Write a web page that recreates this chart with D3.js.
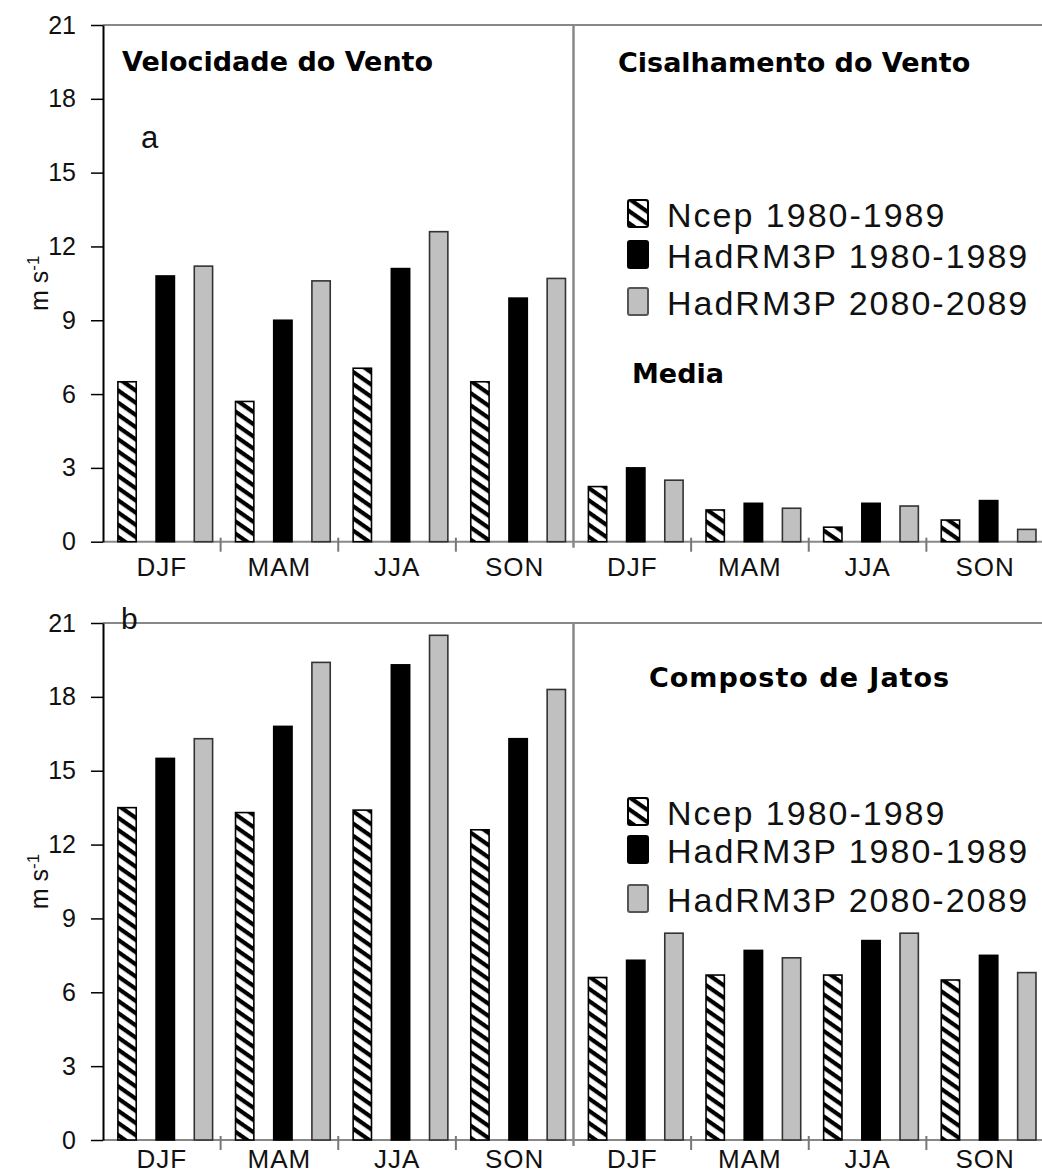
<!DOCTYPE html>
<html lang="pt">
<head>
<meta charset="UTF-8">
<title>Velocidade e cisalhamento do vento</title>
<script src="https://d3js.org/d3.v7.min.js"></script>
<style>
    html, body { margin:0; padding:0; background:#fff; }
    svg { display:block; }
    .tick text { font-family:"Liberation Sans", Arial, sans-serif; font-size:25px; fill:#111; }
    .lbl { font-family:"Liberation Sans", Arial, sans-serif; fill:#111; }
    .ttl { font-family:"DejaVu Sans", Verdana, sans-serif; font-weight:bold; font-size:27px; fill:#000; }
</style>
</head>
<body>
<script>
    // categorias e séries
    const seasons = ["DJF", "MAM", "JJA", "SON"];
    const categories = seasons.concat(seasons);
    const seriesNames = ["Ncep 1980-1989", "HadRM3P 1980-1989", "HadRM3P 2080-2089"];
    const yTicks = [0, 3, 6, 9, 12, 15, 18, 21];

    // painel a: velocidade do vento (4 primeiras) + cisalhamento (4 últimas)
    const aNcep  = [6.5, 5.7, 7.05, 6.5, 2.24, 1.29, 0.59, 0.88];
    const aHad80 = [10.8, 9.0, 11.1, 9.9, 3.0, 1.56, 1.56, 1.67];
    const aHad20 = [11.2, 10.6, 12.6, 10.7, 2.5, 1.36, 1.45, 0.5];

    // painel b
    const bNcep  = [13.5, 13.3, 13.4, 12.6, 6.6, 6.7, 6.7, 6.5];
    const bHad80 = [15.5, 16.8, 19.3, 16.3, 7.3, 7.7, 8.1, 7.5];
    const bHad20 = [16.3, 19.4, 20.5, 18.3, 8.4, 7.4, 8.4, 6.8];

    const W = 1042, H = 1175;
    const svg = d3.select("body").append("svg")
        .attr("width", W).attr("height", H);

    // hachura "\"
    const defs = svg.append("defs");
    const pat = defs.append("pattern")
        .attr("id", "hatch")
        .attr("patternUnits", "userSpaceOnUse")
        .attr("width", 10).attr("height", 10)
        .attr("patternTransform", "rotate(35)");
    pat.append("rect").attr("width", 10).attr("height", 10).attr("fill", "#fff");
    pat.append("rect").attr("width", 10).attr("height", 4.2).attr("fill", "#000");

    const fills = ["url(#hatch)", "#000", "#c0c0c0"];
    const strokes = ["#000", "#000", "#333"];

    const x0 = d3.scaleBand().domain(d3.range(8)).range([103, 1044]);
    const x1 = d3.scaleBand().domain(d3.range(3)).range([0, x0.bandwidth()])
        .paddingInner(0.52).paddingOuter(0.3).align(0.65);

    function drawPanel(top, bottom, series, labelOffset) {
        const y = d3.scaleLinear().domain([0, 21]).range([bottom, top]);
        const g = svg.append("g");

        // linha superior
        g.append("line")
            .attr("x1", 103).attr("x2", W)
            .attr("y1", y(21)).attr("y2", y(21))
            .attr("stroke", "#888").attr("stroke-width", 2);

        // eixo x
        g.append("line")
            .attr("x1", 103).attr("x2", W)
            .attr("y1", y(0)).attr("y2", y(0))
            .attr("stroke", "#888").attr("stroke-width", 2);

        // marcas entre grupos
        [1, 2, 3, 5, 6, 7].forEach(i => {
            g.append("line")
                .attr("x1", x0(i)).attr("x2", x0(i))
                .attr("y1", y(0) - 4).attr("y2", y(0) + 10)
                .attr("stroke", "#777").attr("stroke-width", 2);
        });

        // divisória
        g.append("line")
            .attr("x1", x0(4)).attr("x2", x0(4))
            .attr("y1", y(21)).attr("y2", y(0) + 6)
            .attr("stroke", "#888").attr("stroke-width", 2.5);

        // barras
        series.forEach((vals, s) => {
            g.selectAll(null)
                .data(vals)
                .join("rect")
                .attr("x", (d, i) => x0(i) + x1(s))
                .attr("y", d => y(d))
                .attr("width", x1.bandwidth())
                .attr("height", d => y(0) - y(d))
                .attr("fill", fills[s])
                .attr("stroke", strokes[s])
                .attr("stroke-width", 1.6);
        });

        // eixo y
        const ay = g.append("g")
            .attr("transform", "translate(103,0)")
            .call(d3.axisLeft(y).tickValues(yTicks).tickSize(12).tickPadding(15).tickSizeOuter(0));
        ay.select(".domain").attr("stroke", "#000").attr("stroke-width", 2);
        ay.selectAll(".tick line").attr("stroke", "#000").attr("stroke-width", 1.5);

        // rótulos das estações
        g.selectAll(null)
            .data(categories)
            .join("text")
            .attr("class", "lbl")
            .attr("x", (d, i) => x0(i) + x0.bandwidth() / 2)
            .attr("y", y(0) + labelOffset)
            .attr("text-anchor", "middle")
            .attr("font-size", 26)
            .attr("letter-spacing", 1)
            .text(d => d);

        // unidade
        const t = g.append("text")
            .attr("class", "lbl")
            .attr("font-size", 25)
            .attr("text-anchor", "middle")
            .attr("transform", `translate(48,${(top + bottom) / 2}) rotate(-90)`);
        t.append("tspan").text("m s");
        t.append("tspan").attr("dy", -9).attr("font-size", 17).text("-1");

        return y;
    }

    function drawLegend(ys) {
        const lg = svg.append("g");
        seriesNames.forEach((name, i) => {
            lg.append("rect")
                .attr("x", 628).attr("y", ys[i] - 27)
                .attr("width", 20).attr("height", 27)
                .attr("rx", 2)
                .attr("fill", fills[i])
                .attr("stroke", i === 2 ? "#555" : "#000")
                .attr("stroke-width", 2);
            lg.append("text")
                .attr("class", "lbl")
                .attr("x", 667).attr("y", ys[i])
                .attr("font-size", 34)
                .attr("letter-spacing", 2)
                .text(name);
        });
    }

    drawPanel(25, 541.7, [aNcep, aHad80, aHad20], 34);
    // o rótulo inferior fica rente à borda, como no original
    drawPanel(623, 1140, [bNcep, bHad80, bHad20], 28);

    // títulos
    svg.append("text").attr("class", "ttl").attr("x", 122).attr("y", 71).text("Velocidade do Vento");
    svg.append("text").attr("class", "ttl").attr("x", 618).attr("y", 72).text("Cisalhamento do Vento");
    svg.append("text").attr("class", "ttl").attr("x", 632).attr("y", 383).text("Media");
    svg.append("text").attr("class", "ttl").attr("x", 649).attr("y", 687)
        .attr("letter-spacing", 1).text("Composto de Jatos");

    svg.append("text").attr("class", "lbl").attr("x", 141).attr("y", 148)
        .attr("font-size", 31).text("a");
    svg.append("text").attr("class", "lbl").attr("x", 121).attr("y", 629)
        .attr("font-size", 30).text("b");

    drawLegend([227, 268, 315]);
    drawLegend([825, 863, 912]);
</script>
</body>
</html>
